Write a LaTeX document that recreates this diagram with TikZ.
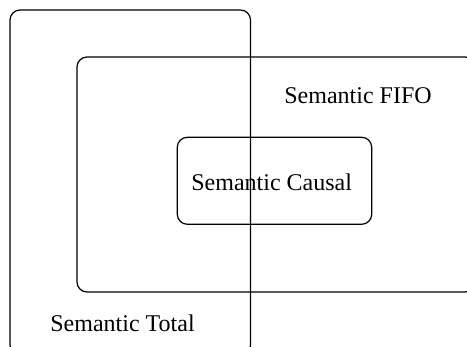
\documentclass[tikz,border=0pt]{standalone}
\usepackage{fontspec}
\setmainfont{Liberation Serif}

\tikzset{
  setbox/.style={line width=0.6pt, rounded corners=5pt},
  setlabel/.style={anchor=base, inner sep=0pt, font=\fontsize{12}{14}\selectfont}
}

\begin{document}
\begin{tikzpicture}[x=0.5pt,y=0.5pt]
\clip (0,0) rectangle (467,347);
%\draw[step=10,gray,very thin] (0,0) grid (467,347); %background grid

\draw[setbox] (10,-8) rectangle (250.5,337);      %total
\draw[setbox] (77,55) rectangle (475,290);        %fifo
\draw[setbox] (177.3,122.7) rectangle (371.7,209.7); %causal

\node[setlabel] (fifo)   at (358,243)   {Semantic FIFO};
\node[setlabel] (causal) at (271.7,156) {Semantic Causal};
\node[setlabel] (total)  at (122.5,15)  {Semantic Total};

\end{tikzpicture}
\end{document}
